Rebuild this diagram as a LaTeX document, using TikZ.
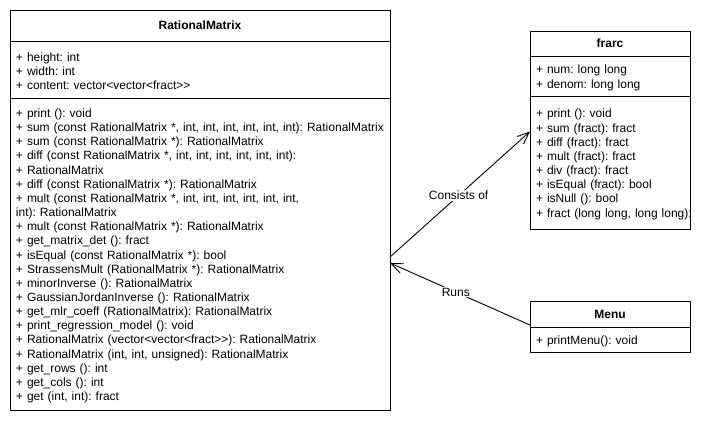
\documentclass[tikz,border=0pt]{standalone}
\usepackage{fontspec}
\setmainfont{Liberation Sans}
\usetikzlibrary{positioning,arrows.meta}

\begin{document}
\begin{tikzpicture}[x=1pt,y=-1pt,
    classhead/.style={draw,line width=1pt,outer sep=0pt,inner ysep=4pt,
        font=\fontsize{12}{14.15}\selectfont\bfseries,align=center},
    classpart/.style={draw,line width=1pt,outer sep=0pt,inner xsep=6pt,inner ysep=4pt,
        font={\fontsize{12}{14.15}\selectfont\frenchspacing\hyphenpenalty10000\relax},align=left,
        execute at begin node={\rule{0pt}{12.5pt}}},
    relation/.style={line width=0.9pt,-{Straight Barb[length=12pt,width=10pt]}},
    rellabel/.style={fill=white,inner sep=1pt,font=\fontsize{12}{14.15}\selectfont}]
    \useasboundingbox (0,0) rectangle (701,424);
    %RationalMatrix
    \node[classhead,minimum width=380pt,minimum height=31pt,anchor=north west]
        (rmhead) at (10,10) {RationalMatrix};
    \node[classpart,text width=368pt,minimum height=57pt,below=0pt of rmhead] (rmattr)
        {+ height: int\\+ width: int\\+ content: vector<vector<fract>{}>};
    \node[classpart,text width=368pt,minimum height=312pt,below=0pt of rmattr] (rmops)
        {+ print (): void\\
         + sum (const RationalMatrix *, int, int, int, int, int, int): RationalMatrix\\
         + sum (const RationalMatrix *): RationalMatrix\\
         + diff (const RationalMatrix *, int, int, int, int, int, int):\\
         + RationalMatrix\\
         + diff (const RationalMatrix *): RationalMatrix\\
         + mult (const RationalMatrix *, int, int, int, int, int, int,\\
         int): RationalMatrix\\
         + mult (const RationalMatrix *): RationalMatrix\\
         + get\_matrix\_det (): fract\\
         + isEqual (const RationalMatrix *): bool\\
         + StrassensMult (RationalMatrix *): RationalMatrix\\
         + minorInverse (): RationalMatrix\\
         + GaussianJordanInverse (): RationalMatrix\\
         + get\_mlr\_coeff (RationalMatrix): RationalMatrix\\
         + print\_regression\_model (): void\\
         + RationalMatrix (vector<vector<fract>{}>): RationalMatrix\\
         + RationalMatrix (int, int, unsigned): RationalMatrix\\
         + get\_rows (): int\\
         + get\_cols (): int\\
         + get (int, int): fract};
    %frarc
    \node[classhead,minimum width=160pt,minimum height=25pt,anchor=north west]
        (frhead) at (530,31) {frarc};
    \node[classpart,text width=148pt,minimum height=40pt,below=0pt of frhead] (frattr)
        {+ num: long long\\+ denom: long long};
    \node[classpart,text width=148pt,minimum height=133pt,below=0pt of frattr] (frops)
        {+ print (): void\\
         + sum (fract): fract\\
         + diff (fract): fract\\
         + mult (fract): fract\\
         + div (fract): fract\\
         + isEqual (fract): bool\\
         + isNull (): bool\\
         \mbox{+ fract (long long, long long):}};
    %Menu
    \node[classhead,minimum width=160pt,minimum height=26pt,anchor=north west]
        (menuhead) at (530,301) {Menu};
    \node[classpart,text width=148pt,minimum height=25pt,below=0pt of menuhead] (menuops)
        {+ printMenu(): void};
    %relations
    \draw[relation] ([yshift=-3pt]rmops.east) -- node[rellabel,pos=0.49] {Consists of}
        ([yshift=31pt]frops.west);
    \draw[relation] ([yshift=2pt]menuhead.south west) -- node[rellabel,pos=0.53] {Runs}
        ([yshift=-9pt]rmops.east);
\end{tikzpicture}
\end{document}
